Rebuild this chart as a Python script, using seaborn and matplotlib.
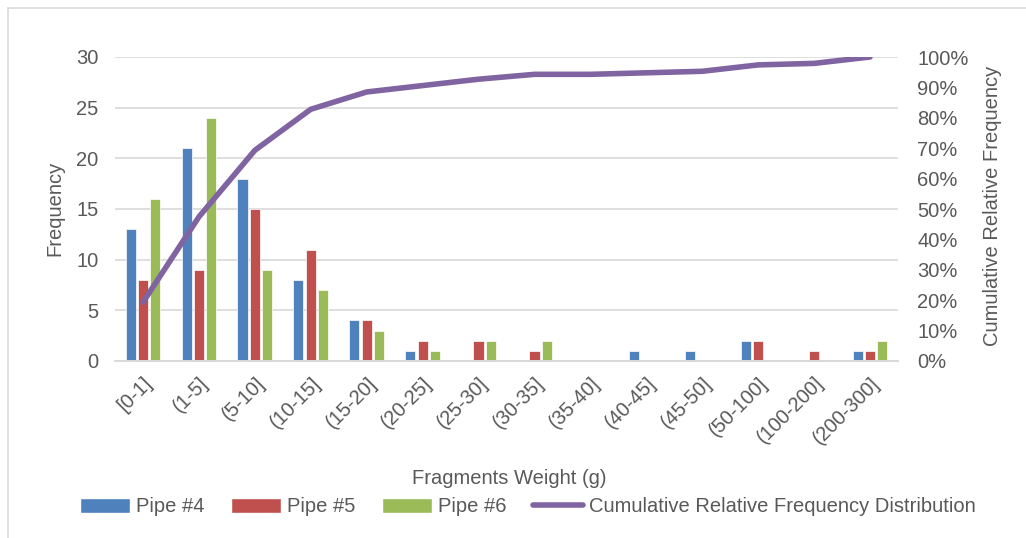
import numpy as np
import pandas as pd
import matplotlib
matplotlib.use('Agg')
import matplotlib.pyplot as plt
import seaborn as sns
from matplotlib.patches import Patch
from matplotlib.lines import Line2D
from matplotlib.ticker import PercentFormatter

# data
categories = ['[0-1]', '(1-5]', '(5-10]', '(10-15]', '(15-20]', '(20-25]', '(25-30]',
              '(30-35]', '(35-40]', '(40-45]', '(45-50]', '(50-100]', '(100-200]', '(200-300]']
pipe4 = [13, 21, 18, 8, 4, 1, 0, 0, 0, 1, 1, 2, 0, 1]
pipe5 = [8, 9, 15, 11, 4, 2, 2, 1, 0, 0, 0, 2, 1, 1]
pipe6 = [16, 24, 9, 7, 3, 1, 2, 2, 0, 0, 0, 0, 0, 2]
cumulative = [0.193, 0.474, 0.693, 0.828, 0.885, 0.906, 0.927,
              0.943, 0.943, 0.948, 0.953, 0.974, 0.979, 1.0]
series = ['Pipe #4', 'Pipe #5', 'Pipe #6']
colors = ['#4F81BD', '#C0504D', '#9BBB59']
line_color = '#8064A2'
grey_txt = '#595959'
grid_col = '#D9D9D9'

df = pd.DataFrame({
    'Weight': categories * 3,
    'Pipe': [s for s in series for _ in categories],
    'Count': pipe4 + pipe5 + pipe6,
})

sns.set_style('white')
plt.rcParams['font.family'] = ['Liberation Sans', 'DejaVu Sans']
fs = 14.5

fig = plt.figure(figsize=(10.26, 5.38), dpi=100)
ax = fig.add_axes([115 / 1026, 1 - 361 / 538, 783 / 1026, 304 / 538])

sns.barplot(data=df, x='Weight', y='Count', hue='Pipe', order=categories,
            hue_order=series, palette=colors, width=0.66, gap=0.18,
            saturation=1, edgecolor='white', linewidth=0.5, legend=False, ax=ax)

ax2 = ax.twinx()
sns.lineplot(x=np.arange(len(categories)), y=cumulative, ax=ax2, color=line_color,
             linewidth=4, sort=False, solid_capstyle='round', solid_joinstyle='round')

ax.set_xlim(-0.5, len(categories) - 0.5)
ax.set_ylim(0, 30)
ax.set_yticks(range(0, 31, 5))
ax2.set_ylim(0, 1)
ax2.set_yticks(np.linspace(0, 1, 11))
ax2.yaxis.set_major_formatter(PercentFormatter(1.0, decimals=0))

ax.yaxis.grid(True, color=grid_col, linewidth=1.2)
ax.set_axisbelow(True)
for a in (ax, ax2):
    for s in ('top', 'left', 'right'):
        a.spines[s].set_visible(False)
    a.spines['bottom'].set_color(grid_col)
    a.spines['bottom'].set_linewidth(1.2)
    a.set_xlabel('')
    a.set_ylabel('')

ax.tick_params(axis='y', length=0, pad=12, labelsize=fs, labelcolor=grey_txt)
ax.tick_params(axis='x', length=0, pad=9, labelsize=fs, labelcolor=grey_txt)
ax2.tick_params(axis='y', length=0, pad=14, labelsize=fs, labelcolor=grey_txt)
ax.set_xticks(range(len(categories)))
ax.set_xticklabels(categories, rotation=45, ha='right', rotation_mode='anchor')

fig.text(55 / 1026, 1 - 208 / 538, 'Frequency', rotation=90, ha='center', va='center',
         fontsize=fs, color=grey_txt)
fig.text(993 / 1026, 1 - 206 / 538, 'Cumulative Relative Frequency', rotation=90,
         ha='center', va='center', fontsize=fs, color=grey_txt)
fig.text(509 / 1026, 1 - 478 / 538, 'Fragments Weight (g)', ha='center', va='center',
         fontsize=fs, color=grey_txt)

handles = [Patch(facecolor=c, label=s) for s, c in zip(series, colors)]
handles.append(Line2D([], [], color=line_color, linewidth=4, solid_capstyle='round',
                      label='Cumulative Relative Frequency Distribution'))
leg = fig.legend(handles=handles, loc='center', bbox_to_anchor=(528 / 1026, 1 - 507 / 538),
                 ncol=4, frameon=False, fontsize=fs, handlelength=2.5, handleheight=0.7,
                 handletextpad=0.3, columnspacing=1.3)
for t in leg.get_texts():
    t.set_color(grey_txt)

# outer chart border (left and top edges visible)
fig.add_artist(Line2D([7.5 / 1026, 7.5 / 1026], [0, 1 - 7.5 / 538], color=grid_col,
                      linewidth=1.2, transform=fig.transFigure))
fig.add_artist(Line2D([7.5 / 1026, 1], [1 - 7.5 / 538, 1 - 7.5 / 538], color=grid_col,
                      linewidth=1.2, transform=fig.transFigure))

fig.savefig('out.png', dpi=100)
